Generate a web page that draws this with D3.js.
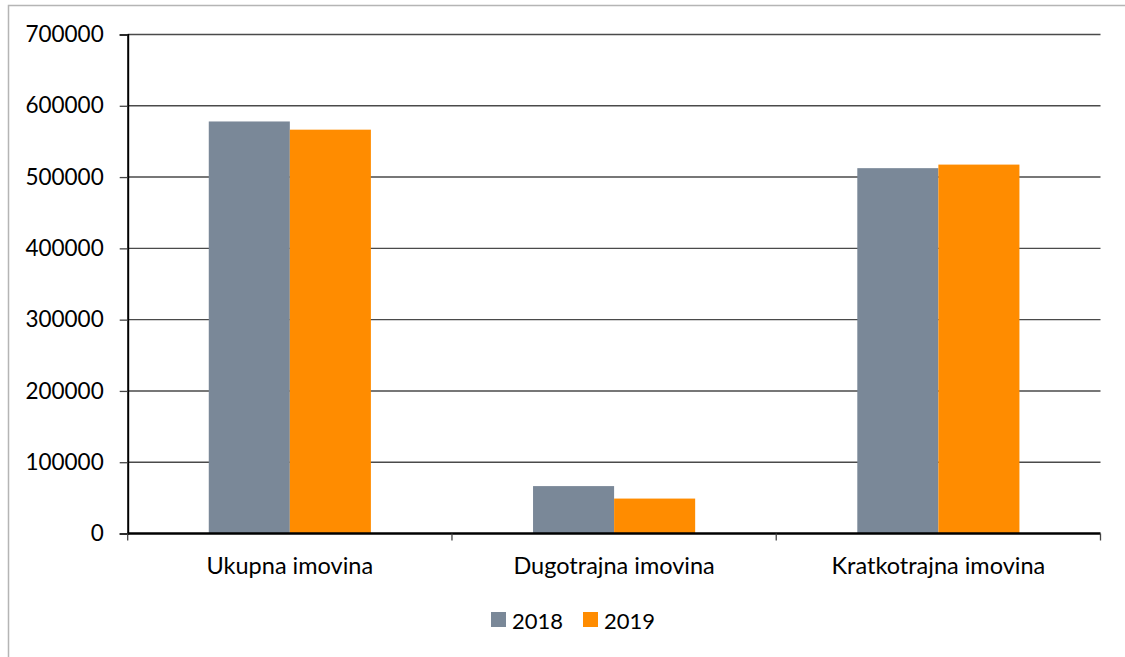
<!DOCTYPE html>
<html><head><meta charset="utf-8">
<script src="https://cdn.jsdelivr.net/npm/d3@7"></script>
<style>body{margin:0;background:#fff}svg{display:block}text{font-family:Lato,"Open Sans",sans-serif;fill:#000}</style>
</head><body><svg id="c" width="1125" height="657"></svg>
<script>
const categories = ["Ukupna imovina", "Dugotrajna imovina", "Kratkotrajna imovina"];
const seriesNames = ["2018", "2019"];
const values2018 = [578000, 66500, 512500];
const values2019 = [566500, 49000, 517500];
const yTicks = [0, 100000, 200000, 300000, 400000, 500000, 600000, 700000];
const colors = ["#7a8898", "#ff8c00"];

const svg = d3.select("#c");
svg.append("rect").attr("x", 8.5).attr("y", 5.5).attr("width", 1130).attr("height", 660)
  .attr("fill", "none").attr("stroke", "#b5b5b5").attr("stroke-width", 1.5);

const pLeft = 127.7, pRight = 1100.5, pTop = 34.5, pBottom = 533.5;
const x = d3.scaleBand().domain(categories).range([pLeft, pRight]).paddingInner(0.5).paddingOuter(0.25);
const xs = d3.scaleBand().domain(seriesNames).range([0, x.bandwidth()]);
const y = d3.scaleLinear().domain([0, 700000]).range([pBottom, pTop]);

// gridlines
svg.append("g").selectAll("line").data(yTicks.filter(d => d > 0)).join("line")
  .attr("x1", pLeft).attr("x2", pRight).attr("y1", d => y(d)).attr("y2", d => y(d))
  .attr("stroke", "#4a4a4a").attr("stroke-width", 1.4);

// bars
const series = [values2018, values2019];
seriesNames.forEach((s, i) => {
  svg.append("g").selectAll("rect").data(categories).join("rect")
    .attr("x", c => x(c) + xs(s)).attr("width", xs.bandwidth())
    .attr("y", (c, j) => y(series[i][j])).attr("height", (c, j) => pBottom - y(series[i][j]))
    .attr("fill", colors[i]);
});

// y axis
const yAxis = d3.axisLeft(y).tickValues(yTicks).tickSize(8).tickPadding(16).tickFormat(d3.format("d"));
const ya = svg.append("g").attr("transform", `translate(${pLeft},0)`).call(yAxis);
ya.select(".domain").attr("stroke", "#000").attr("stroke-width", 2);
ya.selectAll(".tick line").attr("stroke", "#444").attr("stroke-width", 1.3);
ya.selectAll("text").attr("font-size", 22.5).style("font-family", "Lato, 'Open Sans', sans-serif").attr("fill", "#000");

// x axis
const xa = svg.append("g").attr("transform", `translate(0,${pBottom})`);
xa.append("line").attr("x1", pLeft).attr("x2", pRight).attr("y1", 0).attr("y2", 0)
  .attr("stroke", "#000").attr("stroke-width", 2.5);
const bounds = categories.map(c => x(c) - x.step() * x.paddingInner() / 2).concat([pRight]);
xa.selectAll("line.t").data(bounds).join("line").attr("class", "t")
  .attr("x1", d => d).attr("x2", d => d).attr("y1", 0).attr("y2", 7)
  .attr("stroke", "#444").attr("stroke-width", 1.3);
xa.selectAll("text").data(categories).join("text")
  .attr("x", c => x(c) + x.bandwidth() / 2).attr("y", 40)
  .attr("text-anchor", "middle").attr("font-size", 23.5).text(c => c);

// legend
const lg = svg.append("g");
const lx = [491, 583];
seriesNames.forEach((s, i) => {
  lg.append("rect").attr("x", lx[i]).attr("y", 612).attr("width", 15).attr("height", 15).attr("fill", colors[i]);
  lg.append("text").attr("x", lx[i] + 21).attr("y", 628.5).attr("font-size", 22).text(s);
});
</script></body></html>
